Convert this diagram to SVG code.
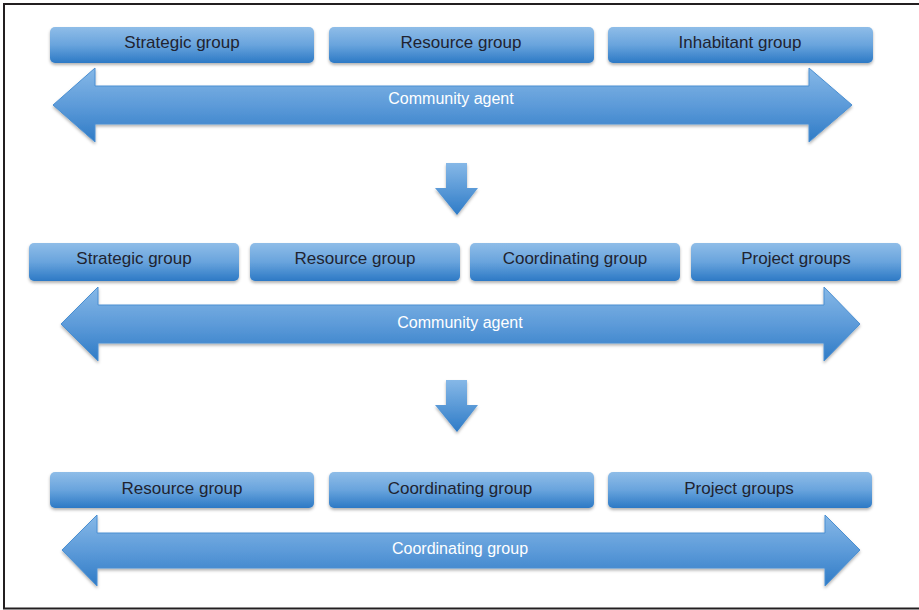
<svg xmlns="http://www.w3.org/2000/svg" width="919" height="610" viewBox="0 0 919 610">
<defs>
  <linearGradient id="boxGrad" x1="0" y1="0" x2="0" y2="1">
    <stop offset="0" stop-color="#8fbde8"/>
    <stop offset="0.5" stop-color="#69a4dd"/>
    <stop offset="1" stop-color="#2c79c5"/>
  </linearGradient>
  <linearGradient id="arrowGrad" x1="0" y1="0" x2="0" y2="1">
    <stop offset="0" stop-color="#86b8e7"/>
    <stop offset="0.5" stop-color="#5d9bd9"/>
    <stop offset="1" stop-color="#2f7bc6"/>
  </linearGradient>
  <linearGradient id="downGrad" x1="0" y1="0" x2="0" y2="1">
    <stop offset="0" stop-color="#86b8e7"/>
    <stop offset="1" stop-color="#2e7bc7"/>
  </linearGradient>
  <filter id="shadow" x="-5%" y="-20%" width="110%" height="150%">
    <feDropShadow dx="0" dy="2" stdDeviation="1.5" flood-color="#000" flood-opacity="0.3"/>
  </filter>
</defs>
<style>
  .box { fill: url(#boxGrad); filter: url(#shadow); }
  .arrow { fill: url(#arrowGrad); stroke: #4a8fd2; stroke-width: 1; filter: url(#shadow); }
  .down { fill: url(#downGrad); filter: url(#shadow); }
  .lbl { font-family: "Liberation Sans", Arial, sans-serif; font-size: 17px; fill: #1f2330; text-anchor: middle; }
  .albl { font-family: "Liberation Sans", Arial, sans-serif; font-size: 16px; fill: #ffffff; text-anchor: middle; }
  .frame { stroke: #231f20; stroke-width: 2; fill: none; }
</style>
<rect width="919" height="610" fill="#ffffff"/>
<path class="frame" d="M919,4 L4,4 L4,608.5 L919,608.5"/>

<!-- Stage 1 -->
<g id="s1-strategic"><rect class="box" x="50" y="27" width="264" height="36" rx="5"/><text class="lbl" x="182" y="48">Strategic group</text></g>
<g id="s1-resource"><rect class="box" x="329" y="27" width="265" height="36" rx="5"/><text class="lbl" x="461" y="48">Resource group</text></g>
<g id="s1-inhabitant"><rect class="box" x="608" y="27" width="265" height="36" rx="5"/><text class="lbl" x="740" y="48">Inhabitant group</text></g>
<g id="s1-agent"><path class="arrow" d="M53,105 L95,68 L95,86 L809,86 L809,68 L852,105 L809,142 L809,124 L95,124 L95,142 Z"/><text class="albl" x="451" y="104">Community agent</text></g>

<!-- Stage 2 -->
<g id="s2-strategic"><rect class="box" x="29" y="243" width="210" height="38" rx="5"/><text class="lbl" x="134" y="264">Strategic group</text></g>
<g id="s2-resource"><rect class="box" x="250" y="243" width="210" height="38" rx="5"/><text class="lbl" x="355" y="264">Resource group</text></g>
<g id="s2-coordinating"><rect class="box" x="470" y="243" width="210" height="38" rx="5"/><text class="lbl" x="575" y="264">Coordinating group</text></g>
<g id="s2-project"><rect class="box" x="691" y="243" width="210" height="38" rx="5"/><text class="lbl" x="796" y="264">Project groups</text></g>
<g id="s2-agent"><path class="arrow" d="M61,324 L98,287 L98,305 L824,305 L824,287 L860,324 L824,361 L824,343 L98,343 L98,361 Z"/><text class="albl" x="460" y="328">Community agent</text></g>

<!-- Stage 3 -->
<g id="s3-resource"><rect class="box" x="50" y="472" width="264" height="36" rx="5"/><text class="lbl" x="182" y="494">Resource group</text></g>
<g id="s3-coordinating"><rect class="box" x="329" y="472" width="265" height="36" rx="5"/><text class="lbl" x="460" y="494">Coordinating group</text></g>
<g id="s3-project"><rect class="box" x="608" y="472" width="264" height="36" rx="5"/><text class="lbl" x="739" y="494">Project groups</text></g>
<g id="s3-coord-arrow"><path class="arrow" d="M62,550 L97,515 L97,533 L825,533 L825,515 L860,550 L825,586 L825,568 L97,568 L97,586 Z"/><text class="albl" x="460" y="554">Coordinating group</text></g>

<!-- Connectors -->
<g id="connectors">
  <path class="down" d="M446,163 L467,163 L467,188 L478,188 L457,215 L435,188 L446,188 Z"/>
  <path class="down" d="M446,380 L467,380 L467,405 L478,405 L457,432 L435,405 L446,405 Z"/>
</g>
</svg>
